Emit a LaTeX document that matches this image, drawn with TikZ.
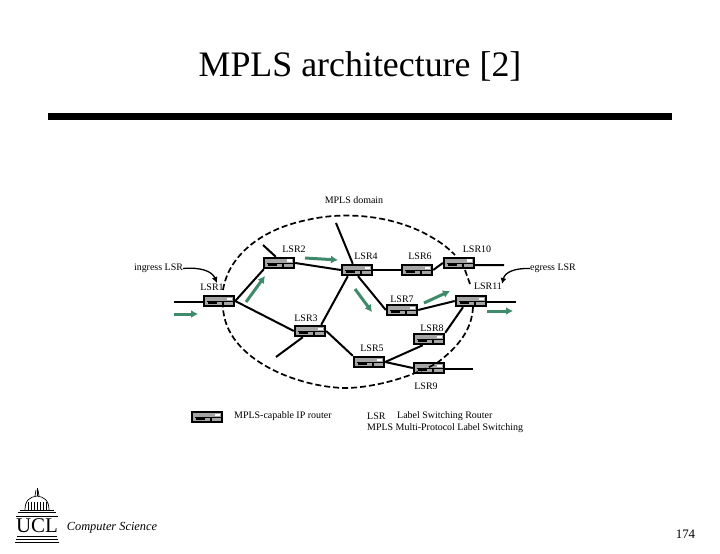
\documentclass[tikz,border=0pt]{standalone}
\usepackage{fontspec}
\setmainfont{Liberation Serif}
\usetikzlibrary{arrows.meta}
\definecolor{flowgreen}{RGB}{62,138,106}
\definecolor{rgray}{RGB}{165,165,165}
\tikzset{
 x=1bp,y=-1bp,
 router/.style={rectangle,draw=none,fill=black,inner sep=0pt,minimum width=32bp,minimum height=12bp,
   path picture={
     \fill[rgray] ([shift={(-14bp,-4bp)}]path picture bounding box.center) rectangle ([shift={(14bp,4bp)}]path picture bounding box.center);
     \fill[black] ([shift={(-11bp,-3bp)}]path picture bounding box.center) rectangle ([shift={(-2bp,-0.5bp)}]path picture bounding box.center);
     \fill[black] ([shift={(-12bp,-1bp)}]path picture bounding box.center) rectangle ([shift={(3bp,0bp)}]path picture bounding box.center);
     \fill[black] ([shift={(3bp,-4bp)}]path picture bounding box.center) rectangle ([shift={(4.5bp,0bp)}]path picture bounding box.center);
     \fill[black] ([shift={(4bp,-1.2bp)}]path picture bounding box.center) rectangle ([shift={(14bp,0bp)}]path picture bounding box.center);
     \fill[white] ([shift={(8bp,0.8bp)}]path picture bounding box.center) rectangle ([shift={(13bp,3.5bp)}]path picture bounding box.center);
   }},
 link/.style={line width=2bp,black},
 boundary/.style={line width=1.7bp,black,dash pattern=on 6bp off 3bp},
 flow/.style={line width=3bp,flowgreen,-{Latex[length=7bp,width=8bp]}},
 callout/.style={line width=1.3bp,black,-{Latex[length=6bp,width=6bp]}},
 lsr/.style={font=\fontsize{10}{11}\selectfont,inner sep=0pt,text=black},
}
\begin{document}
\begin{tikzpicture}
\useasboundingbox (0,0) rectangle (720,554);
\fill[white] (0,0) rectangle (720,554);
\node[inner sep=0pt,font=\fontsize{36}{40}\selectfont] (title) at (360,66.5) {MPLS architecture [2]};
\node[inner sep=0pt,fill=black,minimum width=624bp,minimum height=7bp] (bar) at (360,116.5) {};
% free ends
\coordinate (e1) at (174,302);
\coordinate (e2) at (263,245);
\coordinate (e4) at (336,223);
\coordinate (e3) at (276,357);
\coordinate (e10) at (504,265);
\coordinate (e11) at (516,302);
\coordinate (e9) at (473,369);
% routers
\node[router] (r1) at (219,301) {};
\node[router] (r2) at (279,263) {};
\node[router] (r3) at (310,331) {};
\node[router] (r4) at (357,270) {};
\node[router] (r5) at (369,362) {};
\node[router] (r6) at (417,270) {};
\node[router] (r7) at (402,310) {};
\node[router] (r8) at (429,339) {};
\node[router] (r9) at (429,368) {};
\node[router] (r10) at (459,263) {};
\node[router] (r11) at (471,301) {};
\node[router] (legend) at (207,417) {};
% links
\draw[link] (e1) -- ([yshift=-1bp]r1.west);
\draw[link] (r1.east) -- ([xshift=1bp]r2.south west);
\draw[link] (r1.east) -- (r3.west);
\draw[link] (e2) -- ([xshift=13bp]r2.north west);
\draw[link] (r2.east) -- (r4.west);
\draw[link] ([xshift=-5bp]r3.north east) -- ([xshift=7bp]r4.south west);
\draw[link] (e4) -- ([xshift=12bp]r4.north west);
\draw[link] ([xshift=9bp]r3.south west) -- (e3);
\draw[link] (r3.east) -- (r5.north west);
\draw[link] (r4.east) -- (r6.west);
\draw[link] ([xshift=1bp]r4.south) -- (r7.west);
\draw[link] (r5.east) -- ([xshift=10bp]r8.south west);
\draw[link] (r5.east) -- (r9.west);
\draw[link] (r6.east) -- (r10.west);
\draw[link] (r7.east) -- (r11.west);
\draw[link] (r8.north east) -- ([xshift=-8bp]r11.south);
\draw[link] ([yshift=-2bp]r10.east) -- (e10);
\draw[link] ([yshift=-1bp]r11.east) -- (e11);
\draw[link] ([yshift=-1bp]r9.east) -- (e9);
% domain boundary
\coordinate (d1) at (223,290);
\coordinate (d2) at (455,255);
\coordinate (d3) at (465,270);
\coordinate (d4) at (470,284);
\coordinate (d5) at (473,307);
\coordinate (d6) at (437,363);
\coordinate (d7) at (223,307);
\draw[boundary] (d1) .. controls (228,258) and (258,230) .. (307,220) .. controls (345,211) and (395,215) .. (433,238) .. controls (442,243) and (449,249) .. (d2);
\draw[boundary] (d3) -- (d4);
\draw[boundary] (d5) .. controls (472,330) and (458,347) .. (d6) .. controls (415,375) and (380,387) .. (347,388) .. controls (300,388) and (225,360) .. (d7);
% flows
\coordinate (f1a) at (174,314); \coordinate (f1b) at (198,314);
\coordinate (f2a) at (246,302); \coordinate (f2b) at (265,276);
\coordinate (f3a) at (305,258); \coordinate (f3b) at (338,260);
\coordinate (f4a) at (355,289); \coordinate (f4b) at (372,312);
\coordinate (f5a) at (424,303); \coordinate (f5b) at (450,291);
\coordinate (f6a) at (487,311); \coordinate (f6b) at (513,311);
\draw[flow] (f1a) -- (f1b);
\draw[flow] (f2a) -- (f2b);
\draw[flow] (f3a) -- (f3b);
\draw[flow] (f4a) -- (f4b);
\draw[flow] (f5a) -- (f5b);
\draw[flow] (f6a) -- (f6b);
% labels
\node[lsr] (tdomain) at (354,200.5) {MPLS domain};
\node[lsr] (t1) at (212,287) {LSR1};
\node[lsr] (t2) at (294,249) {LSR2};
\node[lsr] (t3) at (306,318) {LSR3};
\node[lsr] (t4) at (366,256) {LSR4};
\node[lsr] (t5) at (372,348) {LSR5};
\node[lsr] (t6) at (420,256) {LSR6};
\node[lsr] (t7) at (402,299) {LSR7};
\node[lsr] (t8) at (432,328) {LSR8};
\node[lsr] (t9) at (426,386) {LSR9};
\node[lsr] (t10) at (477,249) {LSR10};
\node[lsr] (t11) at (488,286) {LSR11};
\node[lsr] (ingress) at (158.5,268.5) {ingress LSR};
\node[lsr] (egress) at (553,268.5) {egress LSR};
\draw[callout] (ingress.east) .. controls (200,267) and (212,271) .. (217,283);
\draw[callout] (egress.west) .. controls (515,268) and (505,272) .. (502,284);
\node[lsr,anchor=west] (legtext) at (234,416) {MPLS-capable IP router};
\node[lsr,anchor=west] (abbr1) at (367,416) {LSR};
\node[lsr,anchor=west] (abbr1b) at (397,416) {Label Switching Router};
\node[lsr,anchor=west] (abbr2) at (367,428) {MPLS Multi-Protocol Label Switching};
% footer
\node[inner sep=0pt,font=\itshape\fontsize{12.4}{14}\selectfont] (cs) at (112,528) {Computer Science};
\node[inner sep=0pt,font=\fontsize{13}{14}\selectfont] (page) at (685.5,534) {174};
% logo
\begin{scope}[line width=0.7bp,black]
\node[inner sep=0pt,font=\fontsize{21}{21}\selectfont] (ucl) at (37,526) {UCL};
\draw (16,516) -- (58,516);
\draw (18,512.5) -- (56,512.5);
\draw (20,510) -- (54,510);
\draw (25,510) .. controls (25,500) and (30,497) .. (37,496) .. controls (44,497) and (49,500) .. (49,510);
\foreach \i in {28,31,34,37,40,43,46} \draw (\i,510) -- (\i,502);
\draw (37,496) -- (37,488);
\draw (35,496) -- (36,490) (39,496) -- (38,490);
\draw (17,536) -- (57,536);
\draw (16,539) -- (58,539);
\draw (15,542) -- (59,542);
\end{scope}
\end{tikzpicture}
\end{document}
